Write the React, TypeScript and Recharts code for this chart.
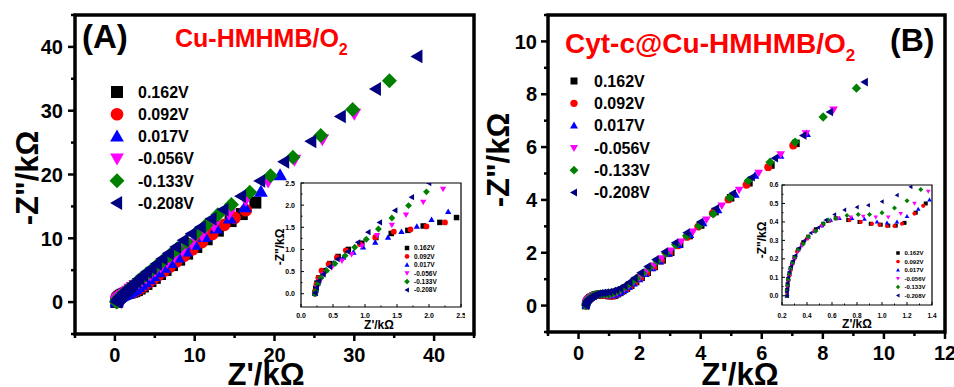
import React from 'react';
import { ScatterChart, Scatter, XAxis, YAxis, ReferenceArea } from 'recharts';

type Pt = [number, number];
const FONT = "Arial, 'Liberation Sans', Helvetica, sans-serif";

const seriesLabels = ['0.162V', '0.092V', '0.017V', '-0.056V', '-0.133V', '-0.208V'];
const seriesColors = ['#000000', '#ff0000', '#0000ff', '#ff00ff', '#008000', '#000080'];
const seriesShapes = ['square', 'circle', 'up', 'down', 'diamond', 'left'];

// ---------- Panel A : Cu-HMHMB/O2 ----------
const a162: Pt[] = [[0.22,0.02],[0.23,0.12],[0.25,0.24],[0.28,0.36],[0.34,0.52],[0.45,0.68],[0.58,0.84],[0.74,1.0],[0.95,1.14],[1.17,1.27],[1.41,1.36],[1.67,1.43],[1.91,1.53],[2.17,1.61],[2.43,1.72],[2.75,1.88],[3.1,2.12],[3.5,2.45],[3.95,2.85],[4.45,3.3],[5.0,3.8],[5.65,4.4],[6.35,5.05],[7.15,5.8],[8.05,6.65],[9.05,7.6],[10.2,8.65],[11.5,9.85],[12.9,11.2],[14.5,12.7],[15.9,13.8],[17.6,15.6]];
const a092: Pt[] = [[0.22,0.0],[0.22,0.06],[0.24,0.21],[0.27,0.36],[0.32,0.52],[0.43,0.67],[0.56,0.82],[0.7,0.98],[0.92,1.12],[1.16,1.27],[1.45,1.4],[1.71,1.45],[1.96,1.52],[2.25,1.61],[2.55,1.72],[2.9,1.95],[3.3,2.3],[3.75,2.7],[4.25,3.15],[4.8,3.65],[5.4,4.2],[6.1,4.85],[6.85,5.55],[7.7,6.35],[8.65,7.25],[9.7,8.25],[10.9,9.4],[12.2,10.65],[13.7,12.1],[15.0,13.2],[16.4,14.4]];
const a017: Pt[] = [[0.22,0.0],[0.23,0.07],[0.26,0.23],[0.31,0.39],[0.39,0.54],[0.51,0.69],[0.66,0.82],[0.82,0.93],[0.97,1.05],[1.16,1.16],[1.36,1.27],[1.57,1.4],[1.81,1.52],[2.04,1.67],[2.3,1.85],[2.6,2.08],[2.95,2.38],[3.35,2.72],[3.8,3.12],[4.3,3.58],[4.85,4.1],[5.5,4.7],[6.2,5.4],[7.0,6.15],[7.9,7.0],[8.9,7.95],[10.0,9.0],[11.25,10.2],[12.7,11.55],[14.4,13.1],[16.3,14.9],[18.3,17.3],[20.7,19.9]];
const aM056: Pt[] = [[0.22,0.0],[0.25,0.14],[0.3,0.29],[0.36,0.44],[0.48,0.59],[0.64,0.74],[0.79,0.89],[0.95,1.08],[1.19,1.32],[1.42,1.55],[1.64,1.78],[1.91,2.07],[2.22,2.36],[2.55,2.65],[2.95,2.98],[3.4,3.38],[3.9,3.82],[4.45,4.32],[5.05,4.9],[5.75,5.55],[6.55,6.3],[7.45,7.15],[8.45,8.1],[9.6,9.2],[10.9,10.45],[12.4,11.95],[14.3,13.85],[16.4,16.0],[19.2,18.9],[22.5,22.3],[26.0,25.5],[30.0,29.5]];
const aM133: Pt[] = [[0.22,0.0],[0.23,0.06],[0.26,0.21],[0.31,0.36],[0.4,0.52],[0.53,0.68],[0.69,0.86],[0.84,1.05],[1.02,1.23],[1.21,1.46],[1.42,1.71],[1.68,1.99],[1.96,2.3],[2.28,2.62],[2.65,3.0],[3.05,3.45],[3.5,3.9],[4.0,4.45],[4.6,5.05],[5.25,5.75],[6.0,6.5],[6.85,7.35],[7.8,8.35],[8.9,9.45],[10.1,10.7],[11.4,12.05],[12.9,13.7],[14.6,15.3],[16.9,17.2],[19.5,19.8],[22.3,22.7],[25.8,26.1],[29.8,30.2],[34.4,34.7]];
const aM208: Pt[] = [[0.22,0.02],[0.245,0.14],[0.28,0.29],[0.35,0.44],[0.45,0.61],[0.57,0.78],[0.73,0.95],[0.89,1.16],[1.05,1.39],[1.23,1.61],[1.47,1.88],[1.73,2.18],[2.0,2.5],[2.3,2.82],[2.65,3.2],[3.05,3.65],[3.5,4.15],[4.0,4.7],[4.6,5.3],[5.25,6.0],[5.95,6.8],[6.75,7.65],[7.65,8.65],[8.6,9.7],[9.6,10.7],[10.75,11.75],[12.1,13.05],[13.6,14.5],[15.8,16.6],[18.2,19.0],[21.2,22.0],[24.6,25.2],[28.3,29.1],[32.7,33.4],[37.9,38.5]];

// ---------- Panel B : Cyt-c@Cu-HMHMB/O2 ----------
const b162: Pt[] = [[0.24,0.0],[0.24,0.03],[0.245,0.06],[0.25,0.09],[0.26,0.12],[0.27,0.15],[0.285,0.18],[0.3,0.21],[0.33,0.25],[0.37,0.29],[0.41,0.32],[0.47,0.36],[0.53,0.39],[0.57,0.405],[0.63,0.42],[0.73,0.41],[0.82,0.4],[0.91,0.39],[0.99,0.385],[1.05,0.38],[1.11,0.38],[1.18,0.395],[1.27,0.45],[1.35,0.5],[1.45,0.57],[1.57,0.66],[1.71,0.77],[1.87,0.91],[2.05,1.07],[2.25,1.26],[2.48,1.48],[2.74,1.73],[3.02,2.02],[3.31,2.32],[3.62,2.65],[4.0,3.05],[4.47,3.56],[4.98,4.08],[5.58,4.65],[6.3,5.32],[7.12,6.14]];
const b092: Pt[] = [[0.24,0.0],[0.24,0.02],[0.245,0.05],[0.25,0.08],[0.26,0.11],[0.27,0.14],[0.28,0.17],[0.3,0.2],[0.32,0.24],[0.36,0.28],[0.4,0.31],[0.46,0.35],[0.52,0.38],[0.58,0.405],[0.64,0.42],[0.74,0.41],[0.83,0.4],[0.92,0.39],[0.98,0.385],[1.04,0.378],[1.1,0.378],[1.16,0.39],[1.26,0.445],[1.33,0.487],[1.42,0.55],[1.54,0.63],[1.68,0.74],[1.84,0.88],[2.02,1.04],[2.22,1.23],[2.45,1.45],[2.7,1.7],[2.97,1.98],[3.26,2.28],[3.55,2.6],[3.92,2.99],[4.4,3.5],[4.91,4.02],[5.5,4.57],[6.21,5.24],[7.03,6.06]];
const b017: Pt[] = [[0.24,0.0],[0.24,0.03],[0.245,0.06],[0.25,0.09],[0.255,0.12],[0.265,0.15],[0.28,0.18],[0.3,0.21],[0.33,0.25],[0.36,0.28],[0.41,0.32],[0.46,0.35],[0.52,0.38],[0.59,0.41],[0.66,0.42],[0.76,0.42],[0.86,0.415],[0.96,0.4],[1.04,0.395],[1.12,0.4],[1.2,0.43],[1.29,0.47],[1.38,0.52],[1.5,0.6],[1.64,0.71],[1.8,0.84],[1.98,1.0],[2.18,1.2],[2.4,1.42],[2.66,1.68],[2.95,1.97],[3.28,2.3],[3.65,2.68],[4.08,3.12],[4.57,3.62],[5.14,4.2],[5.78,4.92],[6.6,5.68],[7.47,6.5]];
const bM056: Pt[] = [[0.24,0.0],[0.24,0.02],[0.245,0.05],[0.25,0.08],[0.26,0.11],[0.27,0.14],[0.285,0.17],[0.3,0.2],[0.33,0.24],[0.36,0.27],[0.41,0.31],[0.46,0.35],[0.52,0.38],[0.58,0.405],[0.65,0.42],[0.75,0.425],[0.85,0.43],[0.95,0.425],[1.05,0.425],[1.15,0.445],[1.26,0.5],[1.37,0.565],[1.5,0.65],[1.65,0.76],[1.81,0.9],[2.0,1.06],[2.21,1.26],[2.45,1.5],[2.72,1.78],[3.02,2.08],[3.36,2.42],[3.75,2.8],[4.19,3.25],[4.69,3.78],[5.26,4.38],[5.9,5.02],[6.62,5.72],[7.45,6.52],[8.35,7.42]];
const bM133: Pt[] = [[0.24,0.0],[0.24,0.03],[0.245,0.06],[0.25,0.09],[0.26,0.12],[0.27,0.15],[0.285,0.18],[0.305,0.21],[0.33,0.25],[0.37,0.28],[0.41,0.32],[0.47,0.35],[0.53,0.39],[0.57,0.41],[0.63,0.42],[0.72,0.435],[0.81,0.44],[0.9,0.44],[1.0,0.45],[1.1,0.475],[1.2,0.515],[1.31,0.575],[1.43,0.65],[1.57,0.75],[1.73,0.88],[1.9,1.03],[2.1,1.22],[2.32,1.44],[2.57,1.69],[2.86,1.98],[3.18,2.3],[3.54,2.64],[3.95,3.02],[4.41,3.47],[4.95,4.08],[5.56,4.73],[6.27,5.43],[7.09,6.19],[8.01,7.14],[9.1,8.23]];
const bM208: Pt[] = [[0.24,0.0],[0.24,0.02],[0.245,0.04],[0.245,0.07],[0.25,0.1],[0.26,0.13],[0.275,0.16],[0.29,0.19],[0.31,0.22],[0.34,0.26],[0.38,0.3],[0.43,0.34],[0.49,0.37],[0.55,0.41],[0.62,0.44],[0.7,0.465],[0.8,0.48],[0.89,0.49],[1.0,0.51],[1.12,0.545],[1.23,0.59],[1.36,0.65],[1.5,0.75],[1.66,0.88],[1.83,1.04],[2.03,1.24],[2.26,1.48],[2.52,1.74],[2.82,2.04],[3.16,2.38],[3.54,2.76],[3.98,3.16],[4.5,3.68],[5.05,4.25],[5.67,4.86],[6.43,5.58],[7.36,6.44],[8.23,7.33],[9.37,8.46]];

const seriesA = [a162, a092, a017, aM056, aM133, aM208];
const seriesB = [b162, b092, b017, bM056, bM133, bM208];

// ---------- ticks ----------
const aMainTicks = [-5, 0, 5, 10, 15, 20, 25, 30, 35, 40, 45];
const aMainLabels = [0, 10, 20, 30, 40];
const bMainXTicks = [-1, 0, 1, 2, 3, 4, 5, 6, 7, 8, 9, 10, 11, 12];
const bMainXLabels = [0, 2, 4, 6, 8, 10, 12];
const bMainYTicks = [-1, 0, 1, 2, 3, 4, 5, 6, 7, 8, 9, 10, 11];
const bMainYLabels = [0, 2, 4, 6, 8, 10];
const aInsetTicks = [0, 0.25, 0.5, 0.75, 1.0, 1.25, 1.5, 1.75, 2.0, 2.25, 2.5];
const aInsetLabels = [0, 0.5, 1.0, 1.5, 2.0, 2.5];
const bInsetXTicks = [0.2, 0.3, 0.4, 0.5, 0.6, 0.7, 0.8, 0.9, 1.0, 1.1, 1.2, 1.3, 1.4];
const bInsetXLabels = [0.2, 0.4, 0.6, 0.8, 1.0, 1.2, 1.4];
const bInsetYTicks = [0, 0.05, 0.1, 0.15, 0.2, 0.25, 0.3, 0.35, 0.4, 0.45, 0.5, 0.55, 0.6];
const bInsetYLabels = [0, 0.1, 0.2, 0.3, 0.4, 0.5, 0.6];

const toPts = (a: Pt[]) => a.map(([x, y]) => ({ x, y }));
const near = (v: number, list: number[]) => list.some((w) => Math.abs(w - v) < 1e-6);
const fmtInt = (v: number) => String(Math.round(v));
const fmt1 = (v: number) => v.toFixed(1);

function Marker({ cx, cy, kind, s, color }: { cx: number; cy: number; kind: string; s: number; color: string }) {
  const h = s / 2;
  if (cx == null || cy == null || isNaN(cx) || isNaN(cy)) return <g />;
  switch (kind) {
    case 'square':
      return <rect x={cx - h} y={cy - h} width={s} height={s} fill={color} />;
    case 'circle':
      return <circle cx={cx} cy={cy} r={h * 1.05} fill={color} />;
    case 'up':
      return <polygon points={`${cx},${cy - h * 1.15} ${cx + h * 1.15},${cy + h * 0.85} ${cx - h * 1.15},${cy + h * 0.85}`} fill={color} />;
    case 'down':
      return <polygon points={`${cx},${cy + h * 1.15} ${cx + h * 1.15},${cy - h * 0.85} ${cx - h * 1.15},${cy - h * 0.85}`} fill={color} />;
    case 'diamond':
      return <polygon points={`${cx},${cy - h * 1.25} ${cx + h * 1.25},${cy} ${cx},${cy + h * 1.25} ${cx - h * 1.25},${cy}`} fill={color} />;
    default:
      return <polygon points={`${cx - h * 1.15},${cy} ${cx + h * 0.85},${cy - h * 1.15} ${cx + h * 0.85},${cy + h * 1.15}`} fill={color} />;
  }
}

type TickOpts = { labels: number[]; fmt: (v: number) => string; fs: number; off: number; major: number; minor: number; sw: number; dir: number };

function makeXTick(o: TickOpts) {
  return (props: any) => {
    const { x, y, payload } = props;
    const v = payload.value as number;
    const isMajor = near(v, o.labels);
    const len = isMajor ? o.major : o.minor;
    return (
      <g>
        <line x1={x} x2={x} y1={y} y2={y + o.dir * len} stroke="#000" strokeWidth={o.sw} />
        {isMajor ? (
          <text x={x} y={y + o.off} textAnchor="middle" fontFamily={FONT} fontWeight="bold" fontSize={o.fs} fill="#000">
            {o.fmt(v)}
          </text>
        ) : null}
      </g>
    );
  };
}

function makeYTick(o: TickOpts) {
  return (props: any) => {
    const { x, y, payload } = props;
    const v = payload.value as number;
    const isMajor = near(v, o.labels);
    const len = isMajor ? o.major : o.minor;
    return (
      <g>
        <line x1={x} x2={x - o.dir * len} y1={y} y2={y} stroke="#000" strokeWidth={o.sw} />
        {isMajor ? (
          <text x={x - o.off} y={y + o.fs * 0.36} textAnchor="end" fontFamily={FONT} fontWeight="bold" fontSize={o.fs} fill="#000">
            {o.fmt(v)}
          </text>
        ) : null}
      </g>
    );
  };
}

type PanelProps = {
  left: number; top: number; width: number; height: number;
  margin: { top: number; right: number; bottom: number; left: number };
  yAxisWidth: number; xAxisHeight: number;
  xDomain: [number, number]; yDomain: [number, number];
  xTicks: number[]; yTicks: number[];
  xTick: any; yTick: any;
  series: Pt[][]; size: number; frameWidth: number; clip: boolean;
};

function Panel(p: PanelProps) {
  return (
    <div style={{ position: 'absolute', left: p.left, top: p.top, width: p.width, height: p.height }}>
      <ScatterChart width={p.width} height={p.height} margin={p.margin}>
        <XAxis type="number" dataKey="x" domain={p.xDomain} ticks={p.xTicks} interval={0} tick={p.xTick}
          tickLine={false} axisLine={false} tickSize={0} tickMargin={0} height={p.xAxisHeight} allowDataOverflow={p.clip} />
        <YAxis type="number" dataKey="y" domain={p.yDomain} ticks={p.yTicks} interval={0} tick={p.yTick}
          tickLine={false} axisLine={false} tickSize={0} tickMargin={0} width={p.yAxisWidth} allowDataOverflow={p.clip} />
        <ReferenceArea x1={p.xDomain[0]} x2={p.xDomain[1]} y1={p.yDomain[0]} y2={p.yDomain[1]}
          fill="none" stroke="#000" strokeWidth={p.frameWidth} ifOverflow="visible" />
        {p.series.map((d, i) => (
          <Scatter key={i} name={seriesLabels[i]} data={toPts(d)} isAnimationActive={false}
            shape={(sp: any) => <Marker cx={sp.cx} cy={sp.cy} kind={seriesShapes[i]} s={p.size} color={seriesColors[i]} />} />
        ))}
      </ScatterChart>
    </div>
  );
}

function LegendBlock({ x, textX, y0, step, fs, size }: { x: number; textX: number; y0: number; step: number; fs: number; size: number }) {
  return (
    <g>
      {seriesLabels.map((lab, i) => (
        <g key={i}>
          <Marker cx={x} cy={y0 + i * step} kind={seriesShapes[i]} s={size} color={seriesColors[i]} />
          <text x={textX} y={y0 + i * step + fs * 0.36} fontSize={fs} fontWeight="bold" fontFamily={FONT} fill="#000">{lab}</text>
        </g>
      ))}
    </g>
  );
}

export default function App() {
  const mainXA = makeXTick({ labels: aMainLabels, fmt: fmtInt, fs: 20, off: 28, major: 7, minor: 4, sw: 2.5, dir: 1 });
  const mainYA = makeYTick({ labels: aMainLabels, fmt: fmtInt, fs: 20, off: 12, major: 7, minor: 4, sw: 2.5, dir: 1 });
  const mainXB = makeXTick({ labels: bMainXLabels, fmt: fmtInt, fs: 20, off: 28, major: 7, minor: 4, sw: 2.5, dir: 1 });
  const mainYB = makeYTick({ labels: bMainYLabels, fmt: fmtInt, fs: 20, off: 11, major: 7, minor: 4, sw: 2.5, dir: 1 });
  const insXA = makeXTick({ labels: aInsetLabels, fmt: fmt1, fs: 7, off: 11, major: 3, minor: 1.5, sw: 1, dir: -1 });
  const insYA = makeYTick({ labels: aInsetLabels, fmt: fmt1, fs: 7, off: 6, major: 3, minor: 1.5, sw: 1, dir: -1 });
  const insXB = makeXTick({ labels: bInsetXLabels, fmt: fmt1, fs: 6.5, off: 13, major: 3, minor: 1.5, sw: 1, dir: -1 });
  const insYB = makeYTick({ labels: bInsetYLabels, fmt: fmt1, fs: 6.5, off: 3.5, major: 3, minor: 1.5, sw: 1, dir: -1 });

  return (
    <div style={{ position: 'absolute', left: 0, top: 0, width: 954, height: 387, background: '#fff', overflow: 'hidden' }}>
      <Panel left={0} top={0} width={480} height={387} margin={{ top: 15, right: 6, bottom: 0, left: 0 }}
        yAxisWidth={75} xAxisHeight={53} xDomain={[-5, 45]} yDomain={[-5, 45]}
        xTicks={aMainTicks} yTicks={aMainTicks} xTick={mainXA} yTick={mainYA}
        series={seriesA} size={12} frameWidth={3.5} clip={false} />
      <Panel left={480} top={0} width={474} height={387} margin={{ top: 15, right: 9, bottom: 0, left: 0 }}
        yAxisWidth={68} xAxisHeight={55} xDomain={[-1, 12]} yDomain={[-1, 11]}
        xTicks={bMainXTicks} yTicks={bMainYTicks} xTick={mainXB} yTick={mainYB}
        series={seriesB} size={7.5} frameWidth={3.5} clip={false} />

      <div style={{ position: 'absolute', left: 301, top: 183, width: 160, height: 124, background: '#fff' }} />
      <div style={{ position: 'absolute', left: 782, top: 185, width: 150, height: 120, background: '#fff' }} />

      <Panel left={265} top={180} width={200} height={150} margin={{ top: 3, right: 4, bottom: 0, left: 0 }}
        yAxisWidth={36} xAxisHeight={23} xDomain={[0, 2.5]} yDomain={[-0.3, 2.5]}
        xTicks={aInsetTicks} yTicks={aInsetTicks} xTick={insXA} yTick={insYA}
        series={seriesA} size={5.5} frameWidth={1.2} clip={true} />
      <Panel left={745} top={182} width={192} height={148} margin={{ top: 3, right: 5, bottom: 0, left: 0 }}
        yAxisWidth={37} xAxisHeight={25} xDomain={[0.2, 1.4]} yDomain={[-0.05, 0.6]}
        xTicks={bInsetXTicks} yTicks={bInsetYTicks} xTick={insXB} yTick={insYB}
        series={seriesB} size={4} frameWidth={1.2} clip={true} />

      <svg width={954} height={387} style={{ position: 'absolute', left: 0, top: 0, pointerEvents: 'none' }}>
        {/* Panel titles */}
        <text x={82} y={48} fontSize={33} fontWeight="bold" fontFamily={FONT} fill="#000">(A)</text>
        <text x={175} y={47} fontSize={25} fontWeight="bold" fontFamily={FONT} fill="#ff0000">
          Cu-HMHMB/O<tspan fontSize={16} dy={8}>2</tspan>
        </text>
        <text x={565} y={53} fontSize={28} fontWeight="bold" fontFamily={FONT} fill="#ff0000">
          Cyt-c@Cu-HMHMB/O<tspan fontSize={17} dy={8}>2</tspan>
        </text>
        <text x={890} y={51} fontSize={32} fontWeight="bold" fontFamily={FONT} fill="#000">(B)</text>

        {/* Axis titles (main) */}
        <text x={266} y={385} textAnchor="middle" fontSize={31} fontWeight="bold" fontFamily={FONT} fill="#000">Z'/kΩ</text>
        <text x={740} y={385} textAnchor="middle" fontSize={31} fontWeight="bold" fontFamily={FONT} fill="#000">Z'/kΩ</text>
        <text x={38} y={178} transform="rotate(-90 38 178)" textAnchor="middle" fontSize={31} fontWeight="bold" fontFamily={FONT} fill="#000">-Z"/kΩ</text>
        <text x={509} y={160} transform="rotate(-90 509 160)" textAnchor="middle" fontSize={31} fontWeight="bold" fontFamily={FONT} fill="#000">-Z"/kΩ</text>

        {/* Axis titles (insets) */}
        <text x={379} y={328.5} textAnchor="middle" fontSize={12} fontWeight="bold" fontFamily={FONT} fill="#000">Z'/kΩ</text>
        <text x={284} y={247} transform="rotate(-90 284 247)" textAnchor="middle" fontSize={12} fontWeight="bold" fontFamily={FONT} fill="#000">-Z"/kΩ</text>
        <text x={857} y={328} textAnchor="middle" fontSize={12} fontWeight="bold" fontFamily={FONT} fill="#000">Z'/kΩ</text>
        <text x={766} y={240} transform="rotate(-90 766 240)" textAnchor="middle" fontSize={12} fontWeight="bold" fontFamily={FONT} fill="#000">-Z"/kΩ</text>

        {/* Legends */}
        <LegendBlock x={117} textX={138} y0={92} step={22.2} fs={16} size={12} />
        <LegendBlock x={574} textX={594} y0={81} step={22.3} fs={16} size={7} />
        <LegendBlock x={407} textX={414} y0={248} step={8.4} fs={6.5} size={4.5} />
        <LegendBlock x={898} textX={904.5} y0={253} step={8.5} fs={6} size={3.5} />
      </svg>
    </div>
  );
}
